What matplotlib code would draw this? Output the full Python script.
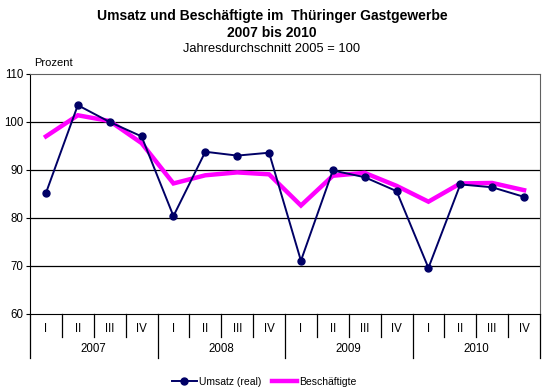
import numpy as np
import matplotlib
matplotlib.use('Agg')
import matplotlib.pyplot as plt

plt.rcParams['font.family'] = ['Liberation Sans', 'DejaVu Sans']

# Data
years = ['2007', '2008', '2009', '2010']
quarters = ['I', 'II', 'III', 'IV']
umsatz = [85.2, 103.5, 100.0, 97.0,
          80.4, 93.8, 93.0, 93.6,
          71.1, 89.9, 88.5, 85.6,
          69.6, 87.0, 86.4, 84.4]
beschaeftigte = [97.0, 101.4, 100.2, 95.6,
                 87.2, 88.9, 89.5, 89.1,
                 82.6, 88.8, 89.4, 86.7,
                 83.4, 87.2, 87.3, 85.8]

fig = plt.figure(figsize=(5.47, 3.92), dpi=100)
ax = fig.add_axes([30 / 547, 1 - 314 / 392, 510 / 547, 240 / 392])

n = len(umsatz)
x = np.arange(n)
ax.plot(x, beschaeftigte, color='#ff00ff', linewidth=3.2, solid_joinstyle='miter',
        label='Beschäftigte', zorder=3)
ax.plot(x, umsatz, color='#000066', linewidth=1.4, marker='o', markersize=5,
        label='Umsatz (real)', zorder=4)

ax.set_xlim(-0.5, n - 0.5)
ax.set_ylim(60, 110)
ax.set_yticks(np.arange(60, 111, 10))
ax.tick_params(axis='y', labelsize=8.3, length=3, width=0.8, pad=2)
for y in range(70, 101, 10):
    ax.axhline(y, color='black', linewidth=0.9, zorder=1)

ax.spines['left'].set_color('black')
ax.spines['bottom'].set_color('black')
ax.spines['top'].set_color('#606060')
ax.spines['right'].set_color('#606060')
ax.set_xticks([])

# two-level category axis drawn below the plot
trans = ax.get_xaxis_transform()
qdrop = 23 / 240
ydrop = 44 / 240
for i in range(n):
    ax.text(i, -9 / 240, quarters[i % 4], transform=trans, ha='center', va='top',
            fontsize=8.3)
for i in range(n + 1):
    drop = ydrop if i % 4 == 0 else qdrop
    ax.plot([i - 0.5, i - 0.5], [0, -drop], transform=trans, color='black',
            linewidth=0.9, clip_on=False)
for k, yr in enumerate(years):
    ax.text(4 * k + 1.5, -29 / 240, yr, transform=trans, ha='center', va='top',
            fontsize=8.3)

fig.text(272 / 547, 1 - 16 / 392, 'Umsatz und Beschäftigte im  Thüringer Gastgewerbe',
         ha='center', va='center', fontsize=10, fontweight='bold')
fig.text(272 / 547, 1 - 33 / 392, '2007 bis 2010', ha='center', va='center',
         fontsize=10, fontweight='bold')
fig.text(272 / 547, 1 - 49 / 392, 'Jahresdurchschnitt 2005 = 100', ha='center',
         va='center', fontsize=9.3)
fig.text(34 / 547, 1 - 63 / 392, 'Prozent', ha='left', va='center', fontsize=8)

handles, labels = ax.get_legend_handles_labels()
fig.legend(handles[::-1], labels[::-1], loc='center', bbox_to_anchor=(264 / 547, 1 - 382 / 392),
           ncol=2, frameon=False, fontsize=7.5, handlelength=2.4, handletextpad=0.2,
           columnspacing=1.0)

fig.savefig('out.png', dpi=100)
